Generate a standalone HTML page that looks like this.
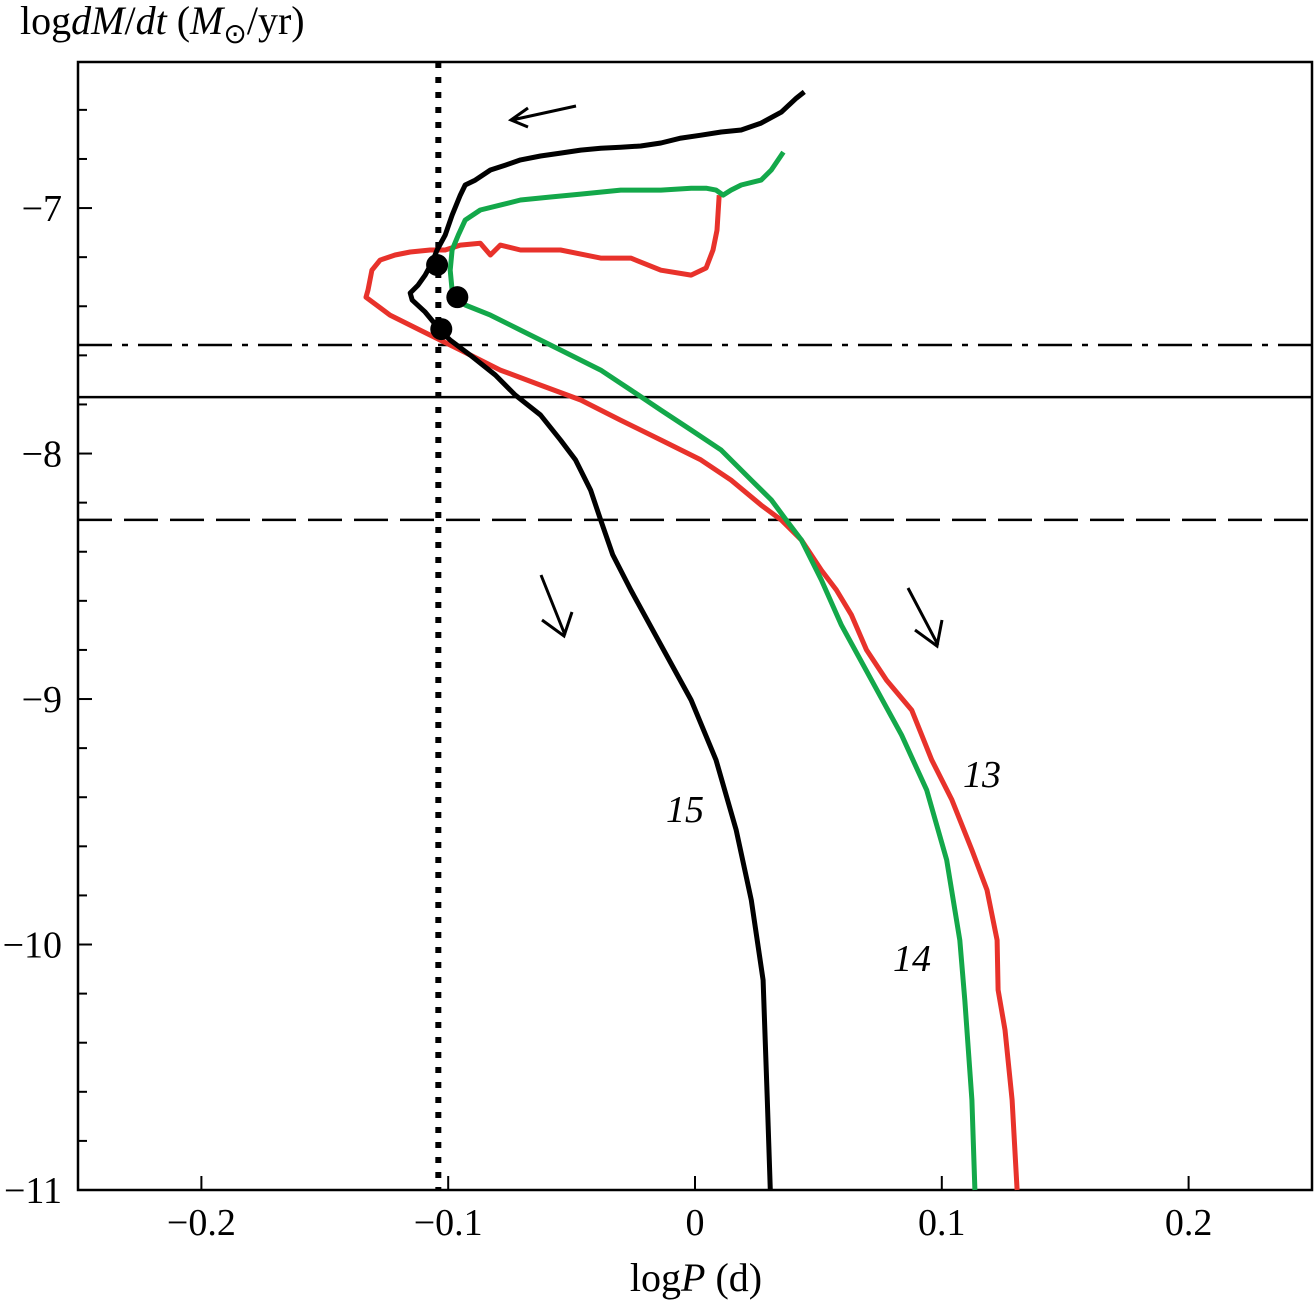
<!DOCTYPE html>
<html><head><meta charset="utf-8"><style>
html,body{margin:0;padding:0;background:#fff;}
svg{display:block;font-family:"Liberation Serif",serif;}
</style></head><body>
<svg id="chart" width="1316" height="1304" viewBox="0 0 1316 1304" xmlns="http://www.w3.org/2000/svg">
<g id="axes"></g>
<g id="refs"></g>
<g id="series"></g>
<g fill="none" stroke="#000" stroke-width="3">
<path d="M576,106 L512,120 M528,108 L511,120 L528,127"/>
<path d="M541,575 L565,635 M542,620 L564,636 L572,612"/>
<path d="M908,588 L938,645 M915,630 L937,646 L942,620"/>
</g>
<text x="666" y="822" font-size="38" font-style="italic">15</text>
<text x="963" y="787" font-size="38" font-style="italic">13</text>
<text x="893" y="971" font-size="38" font-style="italic">14</text>
<text x="20" y="34" font-size="40">log<tspan font-style="italic">dM</tspan>/<tspan font-style="italic">dt</tspan> (<tspan font-style="italic">M</tspan><tspan font-size="28" dy="9">⊙</tspan><tspan dy="-9">/yr)</tspan></text>
<text x="696" y="1291" font-size="40" text-anchor="middle">log<tspan font-style="italic">P</tspan> (d)</text>
</svg>
<script>
const xTicks=[-0.2,-0.1,0,0.1,0.2];
const xTickLabels=["−0.2","−0.1","0","0.1","0.2"];
const yTicks=[-7,-8,-9,-10,-11];
const yTickLabels=["−7","−8","−9","−10","−11"];
const hDashDot=-7.558, hSolid=-7.77, hDashed=-8.27, vDotted=-0.104;
const blackX=[0.0305,0.0293,0.0276,0.0228,0.0167,0.0085,-0.0016,-0.0138,-0.0260,-0.0333,-0.0382,-0.0423,-0.0484,-0.0545,-0.0626,-0.0728,-0.0809,-0.0911,-0.0992,-0.1033,-0.1093,-0.1146,-0.1154,-0.1122,-0.1093,-0.1065,-0.1045,-0.1012,-0.0984,-0.0951,-0.0931,-0.0890,-0.0829,-0.0768,-0.0707,-0.0626,-0.0545,-0.0463,-0.0382,-0.0301,-0.0220,-0.0138,-0.0057,0.0024,0.0106,0.0187,0.0268,0.0350,0.0411,0.0443];
const blackY=[-11.0,-10.633,-10.145,-9.819,-9.534,-9.248,-9.004,-8.780,-8.556,-8.413,-8.271,-8.149,-8.026,-7.945,-7.843,-7.762,-7.680,-7.599,-7.538,-7.497,-7.424,-7.375,-7.346,-7.314,-7.273,-7.220,-7.171,-7.110,-7.029,-6.947,-6.906,-6.886,-6.845,-6.825,-6.804,-6.788,-6.776,-6.764,-6.756,-6.752,-6.747,-6.735,-6.715,-6.703,-6.690,-6.682,-6.654,-6.609,-6.552,-6.527];
const greenX=[0.1134,0.1122,0.1093,0.1073,0.1020,0.0939,0.0837,0.0715,0.0593,0.0512,0.0431,0.0370,0.0309,0.0228,0.0106,-0.0016,-0.0138,-0.0260,-0.0382,-0.0545,-0.0707,-0.0829,-0.0931,-0.0967,-0.0984,-0.0992,-0.0984,-0.0959,-0.0931,-0.0870,-0.0789,-0.0707,-0.0585,-0.0463,-0.0301,-0.0138,-0.0016,0.0045,0.0085,0.0114,0.0146,0.0187,0.0268,0.0309,0.0358];
const greenY=[-11.0,-10.633,-10.226,-9.982,-9.656,-9.371,-9.147,-8.923,-8.699,-8.515,-8.352,-8.271,-8.189,-8.108,-7.986,-7.904,-7.823,-7.741,-7.660,-7.578,-7.497,-7.436,-7.395,-7.367,-7.334,-7.253,-7.171,-7.110,-7.049,-7.008,-6.988,-6.967,-6.955,-6.943,-6.927,-6.927,-6.919,-6.919,-6.927,-6.947,-6.927,-6.906,-6.886,-6.845,-6.772];
const redX=[0.1305,0.1285,0.1256,0.1228,0.1224,0.1183,0.1122,0.1041,0.0959,0.0878,0.0776,0.0695,0.0634,0.0573,0.0512,0.0431,0.0350,0.0268,0.0146,0.0024,-0.0138,-0.0301,-0.0463,-0.0626,-0.0789,-0.0951,-0.1114,-0.1236,-0.1333,-0.1325,-0.1309,-0.1276,-0.1215,-0.1154,-0.1073,-0.1012,-0.0951,-0.0870,-0.0829,-0.0789,-0.0707,-0.0545,-0.0382,-0.0260,-0.0138,-0.0016,0.0045,0.0073,0.0089,0.0098];
const redY=[-11.0,-10.633,-10.348,-10.185,-9.982,-9.778,-9.615,-9.411,-9.248,-9.045,-8.923,-8.800,-8.658,-8.556,-8.475,-8.352,-8.271,-8.210,-8.108,-8.026,-7.945,-7.864,-7.782,-7.721,-7.660,-7.578,-7.497,-7.436,-7.363,-7.334,-7.253,-7.212,-7.191,-7.179,-7.171,-7.171,-7.151,-7.143,-7.191,-7.151,-7.171,-7.171,-7.204,-7.204,-7.253,-7.273,-7.244,-7.171,-7.090,-6.947];
const dotX=[-0.1045,-0.0963,-0.1028];
const dotY=[-7.232,-7.363,-7.493];

const L=78,R=1312,T=62,B=1190;
const xMin=-0.25,xMax=0.25,yMin=-11,yMax=-6.405;
const sx=v=>L+(v-xMin)/(xMax-xMin)*(R-L);
const sy=v=>B-(v-yMin)/(yMax-yMin)*(B-T);
const NS="http://www.w3.org/2000/svg";
function mk(tag,attrs,parent){const e=document.createElementNS(NS,tag);for(const k in attrs)e.setAttribute(k,attrs[k]);parent.appendChild(e);return e;}
const axes=document.getElementById('axes');
let frame=mk('rect',{x:L,y:T,width:R-L,height:B-T,fill:'none',stroke:'#000','stroke-width':2.5},axes);


xTicks.forEach((v,i)=>{
  const t=mk('line',{x1:sx(v),x2:sx(v),y1:B,y2:B-14,stroke:'#000','stroke-width':2},axes);
  
  
  const lb=mk('text',{x:sx(v),y:B+45,'font-size':38,'text-anchor':'middle'},axes);
  lb.textContent=xTickLabels[i];
  
  
});
for(let v=-11;v<=-6.45;v+=0.2){
  const major=Math.abs(v-Math.round(v))<0.01;
  const t=mk('line',{x1:L,x2:L+(major?14:9),y1:sy(v),y2:sy(v),stroke:'#000','stroke-width':2},axes);
  
  
}
yTicks.forEach((v,i)=>{
  const lb=mk('text',{x:62,y:sy(v)+13,'font-size':38,'text-anchor':'end'},axes);
  lb.textContent=yTickLabels[i];
  
  
});
const refs=document.getElementById('refs');
let r1=mk('line',{x1:L,x2:R,y1:sy(hDashDot),y2:sy(hDashDot),stroke:'#000','stroke-width':2.5,'stroke-dasharray':'34,10,6,10'},refs);


let r2=mk('line',{x1:L,x2:R,y1:sy(hSolid),y2:sy(hSolid),stroke:'#000','stroke-width':2.5},refs);


let r3=mk('line',{x1:L,x2:R,y1:sy(hDashed),y2:sy(hDashed),stroke:'#000','stroke-width':2.5,'stroke-dasharray':'34,12'},refs);


let r4=mk('line',{x1:sx(vDotted),x2:sx(vDotted),y1:T,y2:B,stroke:'#000','stroke-width':6,'stroke-dasharray':'6,9'},refs);


const series=document.getElementById('series');
function line(xs,ys,color,name){
  const d=xs.map((x,i)=>(i?'L':'M')+sx(x).toFixed(1)+','+sy(ys[i]).toFixed(1)).join(' ');
  const p=mk('path',{d:d,fill:'none',stroke:color,'stroke-width':5,'stroke-linejoin':'round'},series);
  
  
}
line(redX,redY,'#e8322b','series-13-red');
line(greenX,greenY,'#13a84a','series-14-green');
line(blackX,blackY,'#000','series-15-black');
dotX.forEach((x,i)=>{
  const c=mk('circle',{cx:sx(x),cy:sy(dotY[i]),r:11,fill:'#000'},series);
  
  
});
</script>
</body></html>
